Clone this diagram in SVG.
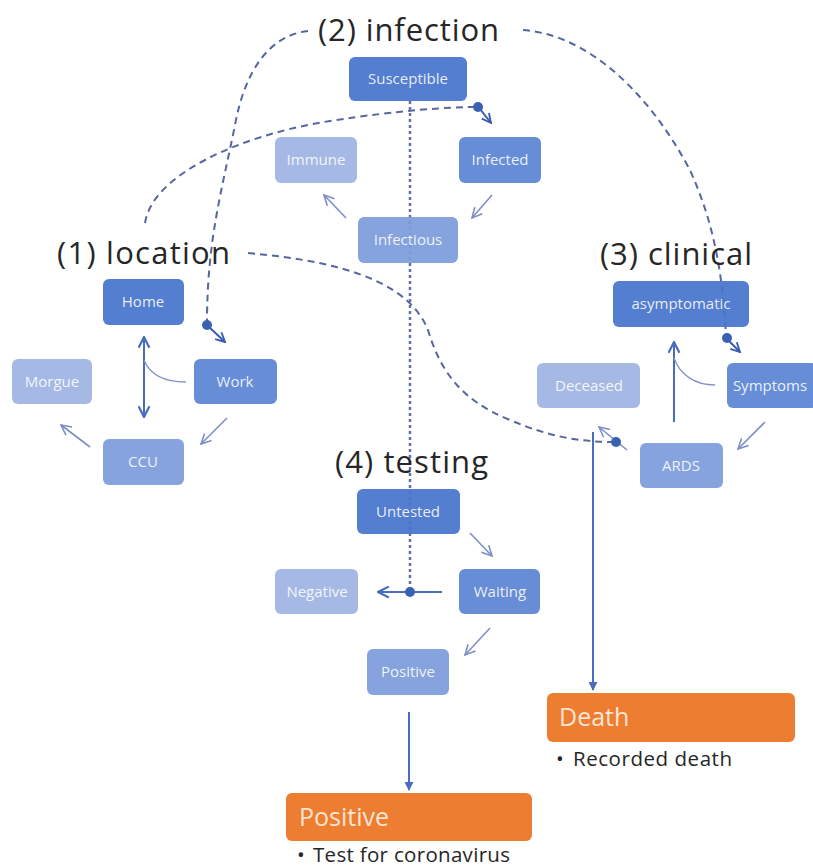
<svg xmlns="http://www.w3.org/2000/svg" width="813" height="868" viewBox="0 0 813 868">
<defs>
<style>
.title{font-family:"Open Sans","Liberation Sans",sans-serif;font-size:31px;fill:#262626}
.lbl{font-family:"Open Sans","Liberation Sans",sans-serif;font-size:15px;fill:#ffffff;fill-opacity:0.88;text-anchor:middle}
.d1{fill:#4674CB}
.d2{fill:#5A84D3}
.d3{fill:#7C9CDB}
.d4{fill:#9FB4E3}
.box{opacity:0.92}
.dash{fill:none;stroke:#56669E;stroke-width:2;stroke-dasharray:7 5}
.dot{fill:none;stroke:#6272A8;stroke-width:2.5;stroke-dasharray:3 3}
.thin{fill:none;stroke:#7F8FC6;stroke-width:1.6;marker-end:url(#openThin)}
.arc{fill:none;stroke:#8593C5;stroke-width:1.3}
.solid{fill:none;stroke:#4A6CBE;stroke-width:2}
.knot{fill:#3A60B4}
.orange{fill:#ED7D31}
.otxt{font-family:"Open Sans","Liberation Sans",sans-serif;font-size:25px;fill:#FCE4D3}
.bul{font-family:"Open Sans","Liberation Sans",sans-serif;font-size:20.5px;fill:#262626}
</style>
<marker id="openThin" viewBox="0 0 12 12" refX="11" refY="6" markerWidth="12" markerHeight="12" markerUnits="userSpaceOnUse" orient="auto">
<path d="M1,1 L11,6 L1,11" fill="none" stroke="#7F8FC6" stroke-width="1.6"/>
</marker>
<marker id="openBlue" viewBox="0 0 12 12" refX="11" refY="6" markerWidth="13" markerHeight="13" markerUnits="userSpaceOnUse" orient="auto-start-reverse">
<path d="M1,1 L11,6 L1,11" fill="none" stroke="#4A6CBE" stroke-width="2"/>
</marker>
<marker id="openDark" viewBox="0 0 12 12" refX="11" refY="6" markerWidth="11" markerHeight="11" markerUnits="userSpaceOnUse" orient="auto">
<path d="M1,1 L11,6 L1,11" fill="none" stroke="#3A5BAE" stroke-width="2"/>
</marker>
<marker id="fillBlue" viewBox="0 0 10 10" refX="9" refY="5" markerWidth="9" markerHeight="9" markerUnits="userSpaceOnUse" orient="auto">
<path d="M0,0 L10,5 L0,10 Z" fill="#4A6CBE"/>
</marker>
</defs>
<rect width="813" height="868" fill="#ffffff"/>

<g id="connectors">
<path class="dash" d="M145,223 C152,175 240,135 330,121 C400,110 450,107 478,107"/>
<path class="dash" d="M308,31 C270,35 245,70 235,125 C222,190 207,240 207,323"/>
<path class="dash" d="M523,30 C590,35 650,95 690,170 C710,215 722,260 726,336"/>
<path class="dash" d="M248,253 C350,262 410,285 428,330 C440,370 460,400 510,420 C550,437 580,442 615,442"/>
<path class="dot" d="M410,101 L410,592"/>
<path d="M480,109 L491,123" fill="none" stroke="#3A5BAE" stroke-width="2" marker-end="url(#openDark)"/>
<path d="M209,327 L225,342" fill="none" stroke="#3A5BAE" stroke-width="2" marker-end="url(#openDark)"/>
<path d="M728,340 L740,352" fill="none" stroke="#3A5BAE" stroke-width="2" marker-end="url(#openDark)"/>
<path class="thin" d="M492,195 L472,218"/>
<path class="thin" d="M346,218 L324,195"/>
<path class="solid" d="M144,337 L144,417" marker-start="url(#openBlue)" marker-end="url(#openBlue)"/>
<path class="arc" d="M186,382 C165,382 150,375 144,360"/>
<path class="thin" d="M227,418 L201,444"/>
<path class="thin" d="M90,447 L61,425"/>
<path class="solid" d="M674,422 L674,342" marker-end="url(#openBlue)"/>
<path class="arc" d="M715,385 C695,385 680,375 674,358"/>
<path class="thin" d="M765,422 L738,449"/>
<path class="thin" d="M627,450 L599,427"/>
<path class="solid" d="M593,432 L593,690" marker-end="url(#fillBlue)"/>
<path class="thin" d="M470,533 L492,556"/>
<path class="solid" d="M442,592 L378,592" marker-end="url(#openBlue)"/>
<path class="thin" d="M490,628 L465,655"/>
<path class="solid" d="M409,712 L409,790" marker-end="url(#fillBlue)"/>
<circle class="knot" cx="478" cy="107" r="5"/>
<circle class="knot" cx="207" cy="325" r="5"/>
<circle class="knot" cx="727" cy="338" r="5"/>
<circle class="knot" cx="616" cy="442" r="5"/>
<circle class="knot" cx="410" cy="592" r="5"/>
</g>

<g id="infection">
<text class="title" x="318" y="41" textLength="181">(2) infection</text>
<g id="susceptible" class="box"><rect class="d1" x="349" y="57" width="118" height="44" rx="6"/><text class="lbl" x="408" y="84">Susceptible</text></g>
<g id="immune" class="box"><rect class="d4" x="275" y="137" width="82" height="46" rx="6"/><text class="lbl" x="316" y="165">Immune</text></g>
<g id="infected" class="box"><rect class="d2" x="459" y="137" width="82" height="46" rx="6"/><text class="lbl" x="500" y="165">Infected</text></g>
<g id="infectious" class="box"><rect class="d3" x="358" y="217" width="100" height="46" rx="6"/><text class="lbl" x="408" y="245">Infectious</text></g>
</g>

<g id="location">
<text class="title" x="57" y="264" textLength="173">(1) location</text>
<g id="home" class="box"><rect class="d1" x="103" y="279" width="81" height="46" rx="6"/><text class="lbl" x="143" y="307">Home</text></g>
<g id="work" class="box"><rect class="d2" x="194" y="359" width="83" height="45" rx="6"/><text class="lbl" x="235" y="387">Work</text></g>
<g id="morgue" class="box"><rect class="d4" x="12" y="359" width="80" height="45" rx="6"/><text class="lbl" x="52" y="387">Morgue</text></g>
<g id="ccu" class="box"><rect class="d3" x="103" y="439" width="81" height="46" rx="6"/><text class="lbl" x="143" y="467">CCU</text></g>
</g>

<g id="clinical">
<text class="title" x="600" y="265" textLength="152">(3) clinical</text>
<g id="asymptomatic" class="box"><rect class="d1" x="613" y="281" width="136" height="46" rx="6"/><text class="lbl" x="681" y="309">asymptomatic</text></g>
<g id="symptoms" class="box"><rect class="d2" x="727" y="363" width="90" height="45" rx="6"/><text class="lbl" x="770" y="391">Symptoms</text></g>
<g id="deceased" class="box"><rect class="d4" x="537" y="363" width="103" height="45" rx="6"/><text class="lbl" x="589" y="391">Deceased</text></g>
<g id="ards" class="box"><rect class="d3" x="640" y="443" width="83" height="45" rx="6"/><text class="lbl" x="681" y="471">ARDS</text></g>
</g>

<g id="testing">
<text class="title" x="335" y="473" textLength="153">(4) testing</text>
<g id="untested" class="box"><rect class="d1" x="357" y="489" width="103" height="45" rx="6"/><text class="lbl" x="408" y="517">Untested</text></g>
<g id="waiting" class="box"><rect class="d2" x="459" y="569" width="81" height="45" rx="6"/><text class="lbl" x="500" y="597">Waiting</text></g>
<g id="negative" class="box"><rect class="d4" x="275" y="569" width="83" height="45" rx="6"/><text class="lbl" x="317" y="597">Negative</text></g>
<g id="positive-state" class="box"><rect class="d3" x="367" y="649" width="82" height="46" rx="6"/><text class="lbl" x="408" y="677">Positive</text></g>
</g>

<g id="death-outcome">
<rect class="orange" x="547" y="693" width="248" height="49" rx="6"/>
<text class="otxt" x="559" y="726">Death</text>
<text class="bul" x="556" y="766">• <tspan x="573" textLength="159">Recorded death</tspan></text>
</g>

<g id="positive-outcome">
<rect class="orange" x="286" y="793" width="246" height="48" rx="6"/>
<text class="otxt" x="299" y="826">Positive</text>
<text class="bul" x="297" y="862">• <tspan x="313" textLength="197">Test for coronavirus</tspan></text>
</g>
</svg>
